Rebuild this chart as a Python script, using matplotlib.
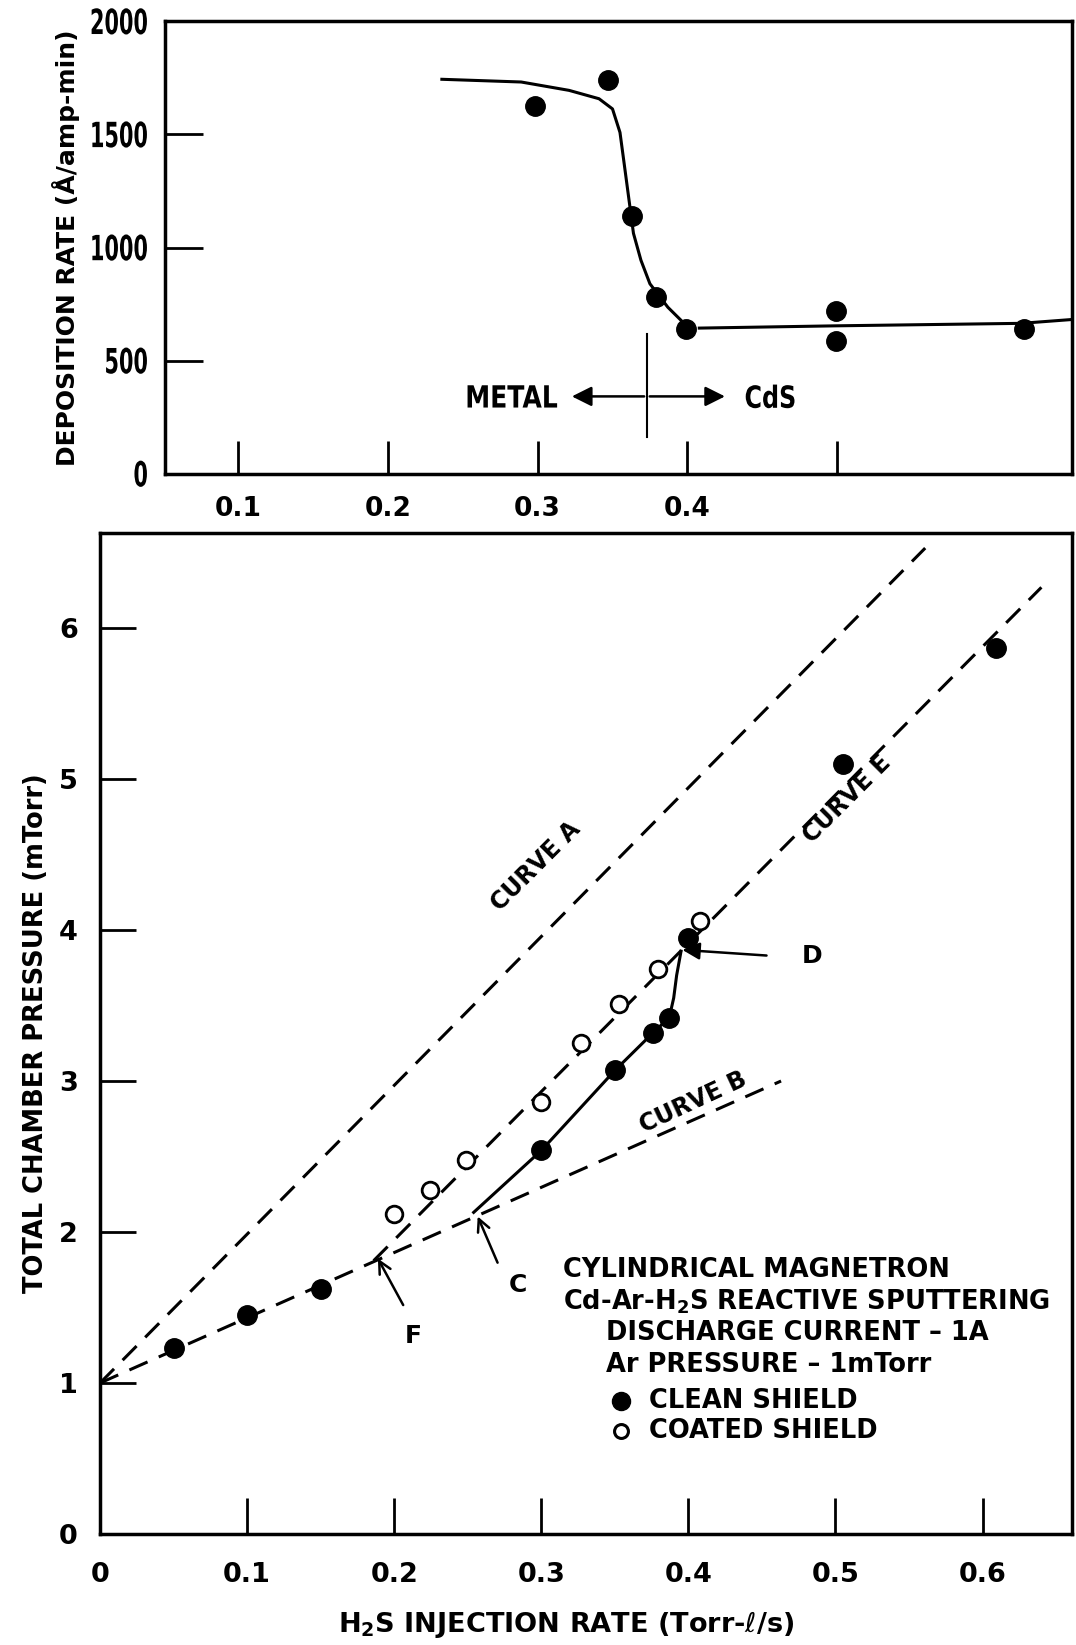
import matplotlib
matplotlib.use("Agg")
import matplotlib.pyplot as plt
from matplotlib.font_manager import FontProperties
from matplotlib.textpath import TextPath
from matplotlib.patches import PathPatch
from matplotlib.transforms import Affine2D, ScaledTranslation

plt.rcParams["font.family"] = "DejaVu Sans"

# ── Top panel: deposition rate ───────────────────────────────────────────────
rate_x = [0.298, 0.347, 0.363, 0.379, 0.399, 0.499, 0.499, 0.625]
rate_y = [1625, 1740, 1138, 781, 642, 721, 587, 639]

# hand-drawn fit through the transition
fit_x = [0.236, 0.289, 0.321, 0.341, 0.350, 0.355, 0.358, 0.361, 0.364,
         0.369, 0.375, 0.387, 0.396]
fit_y = [1744, 1732, 1695, 1658, 1613, 1509, 1361, 1212, 1063,
         944, 840, 736, 677]
flat_x = [0.408, 0.499, 0.623, 0.657]
flat_y = [644, 654, 665, 682]

rate_yticks = [0, 500, 1000, 1500, 2000]
rate_xticks = [0.1, 0.2, 0.3, 0.4, 0.5]
rate_xlabels = ["0.1", "0.2", "0.3", "0.4", ""]

# ── Bottom panel: chamber pressure ───────────────────────────────────────────
clean_x = [0.05, 0.10, 0.15, 0.30, 0.35, 0.376, 0.387, 0.40, 0.505, 0.609]
clean_y = [1.23, 1.45, 1.62, 2.54, 3.07, 3.32, 3.42, 3.95, 5.10, 5.87]
coated_x = [0.20, 0.224, 0.249, 0.30, 0.327, 0.353, 0.379, 0.408]
coated_y = [2.12, 2.28, 2.48, 2.86, 3.25, 3.51, 3.74, 4.06]

curve_a_x = [0.0, 0.561]
curve_a_y = [1.0, 6.53]
curve_b_x = [0.0, 0.463]
curve_b_y = [1.0, 3.0]
curve_e_x = [0.186, 0.640]
curve_e_y = [1.81, 6.27]
solid_x = [0.254, 0.30, 0.35, 0.376, 0.387, 0.390, 0.392, 0.395]
solid_y = [2.13, 2.54, 3.07, 3.32, 3.42, 3.55, 3.70, 3.86]

press_xticks = [0, 0.1, 0.2, 0.3, 0.4, 0.5, 0.6]
press_xlabels = ["0", "0.1", "0.2", "0.3", "0.4", "0.5", "0.6"]
press_yticks = [0, 1, 2, 3, 4, 5, 6]

legend_lines = ["CYLINDRICAL MAGNETRON",
                "Cd-Ar-H$_\\mathbf{2}$S REACTIVE SPUTTERING",
                "DISCHARGE CURRENT – 1A",
                "Ar PRESSURE – 1mTorr"]
legend_y = [1.75, 1.54, 1.33, 1.12]

LW = 2.2
DASH = (6.5, 4)
TXT = dict(fontweight="bold")

fig = plt.figure(figsize=(10.76, 16.45), dpi=100)
ax1 = fig.add_axes([0.1533, 0.712, 0.843, 0.275])
ax2 = fig.add_axes([0.093, 0.0675, 0.903, 0.6085])


def squeezed(s, x, y, trans, size, sx, ha="left", va="center", dx=0.0):
    """Condensed text: DejaVu bold glyph outlines squeezed horizontally."""
    tp = TextPath((0, 0), s, prop=FontProperties(family="DejaVu Sans",
                                                 weight="bold", size=size))
    bb = tp.get_extents()
    ox = {"left": bb.x0, "center": (bb.x0 + bb.x1) / 2, "right": bb.x1}[ha]
    oy = {"bottom": bb.y0, "center": (bb.y0 + bb.y1) / 2, "top": bb.y1}[va]
    k = fig.dpi / 72
    t = (Affine2D().translate(-ox, -oy).scale(sx * k, k).translate(dx, 0)
         + ScaledTranslation(x, y, trans))
    fig.add_artist(PathPatch(tp, transform=t, facecolor="black", lw=0))


for ax in (ax1, ax2):
    for s in ax.spines.values():
        s.set_linewidth(2.5)
    ax.tick_params(direction="in", width=2)

# ── top ──────────────────────────────────────────────────────────────────────
ax1.plot(fit_x, fit_y, color="black", lw=LW)
ax1.plot(flat_x, flat_y, color="black", lw=LW)
ax1.plot(rate_x, rate_y, "o", color="black", ms=14)
ax1.plot([0.373, 0.373], [164, 617], color="black", lw=1.5)
for tip in (0.321, 0.427):
    ax1.annotate("", xy=(tip, 342), xytext=(0.373, 342),
                 arrowprops=dict(arrowstyle="-|>", color="black", lw=1.8,
                                 mutation_scale=30))
ax1.set_xlim(0.051, 0.657)
ax1.set_ylim(0, 2000)
ax1.set_yticks(rate_yticks)
ax1.set_yticklabels([])
ax1.set_xticks(rate_xticks)
ax1.set_xticklabels(rate_xlabels)
ax1.tick_params(axis="x", length=24, pad=16, labelsize=19)
ax1.tick_params(axis="y", length=27)
for lab in ax1.get_xticklabels():
    lab.set_fontweight("bold")
for v in rate_yticks:
    squeezed(str(v), 0, v, ax1.get_yaxis_transform(), 25, 0.6,
             ha="right", dx=-18)
squeezed("METAL", 0.313, 342, ax1.transData, 22, 0.82, ha="right")
squeezed("CdS", 0.439, 342, ax1.transData, 22, 0.78, ha="left")
ax1.set_ylabel("DEPOSITION RATE (Å/amp-min)", fontsize=18, **TXT)
ax1.yaxis.set_label_coords(-0.094, 0.5)

# ── bottom ───────────────────────────────────────────────────────────────────
ax2.plot(curve_a_x, curve_a_y, color="black", lw=LW, dashes=DASH)
ax2.plot(curve_b_x, curve_b_y, color="black", lw=LW, dashes=DASH)
ax2.plot(curve_e_x, curve_e_y, color="black", lw=LW, dashes=DASH)
ax2.plot(solid_x, solid_y, color="black", lw=LW)
ax2.plot(clean_x, clean_y, "o", color="black", ms=14)
ax2.plot(coated_x, coated_y, "o", mfc="white", mec="black", mew=2, ms=12)

ax2.text(0.296, 4.42, "CURVE A", rotation=45, ha="center", va="center",
         fontsize=17, rotation_mode="anchor", **TXT)
ax2.text(0.508, 4.87, "CURVE E", rotation=45, ha="center", va="center",
         fontsize=17, rotation_mode="anchor", **TXT)
ax2.text(0.403, 2.86, "CURVE B", rotation=25, ha="center", va="center",
         fontsize=17, rotation_mode="anchor", **TXT)

arrow_kw = dict(arrowstyle="->", color="black", lw=1.8, mutation_scale=22)
ax2.annotate("", xy=(0.188, 1.84), xytext=(0.207, 1.50), arrowprops=arrow_kw)
ax2.annotate("", xy=(0.256, 2.12), xytext=(0.271, 1.78), arrowprops=arrow_kw)
ax2.annotate("", xy=(0.394, 3.87), xytext=(0.455, 3.83),
             arrowprops=dict(arrowstyle="-|>", color="black", lw=1.8,
                             mutation_scale=26))
ax2.text(0.213, 1.31, "F", ha="center", va="center", fontsize=18, **TXT)
ax2.text(0.284, 1.65, "C", ha="center", va="center", fontsize=18, **TXT)
ax2.text(0.484, 3.83, "D", ha="center", va="center", fontsize=18, **TXT)

for i, line in enumerate(legend_lines):
    x0 = 0.315 if i < 2 else 0.344
    ax2.text(x0, legend_y[i], line, ha="left", va="center", fontsize=18.5, **TXT)
ax2.plot([0.354], [0.88], "o", color="black", ms=13)
ax2.plot([0.354], [0.68], "o", mfc="white", mec="black", mew=2.2, ms=10)
ax2.text(0.373, 0.88, "CLEAN SHIELD", ha="left", va="center", fontsize=18.5, **TXT)
ax2.text(0.373, 0.68, "COATED SHIELD", ha="left", va="center", fontsize=18.5, **TXT)

ax2.set_xlim(0, 0.6606)
ax2.set_ylim(0, 6.63)
ax2.set_xticks(press_xticks)
ax2.set_xticklabels(press_xlabels)
ax2.set_yticks(press_yticks)
ax2.tick_params(axis="x", length=26, pad=20, labelsize=19.5)
ax2.tick_params(axis="y", length=26, pad=16, labelsize=19.5)
for lab in ax2.get_xticklabels() + ax2.get_yticklabels():
    lab.set_fontweight("bold")
ax2.set_ylabel("TOTAL CHAMBER PRESSURE (mTorr)", fontsize=18.5, **TXT)
ax2.yaxis.set_label_coords(-0.053, 0.5)
ax2.set_xlabel("H$_\\mathbf{2}$S INJECTION RATE (Torr-$\\ell$/s)", fontsize=19.5,
               **TXT)
ax2.xaxis.set_label_coords(0.48, -0.075)

plt.savefig("out.png", dpi=100)
plt.close()
